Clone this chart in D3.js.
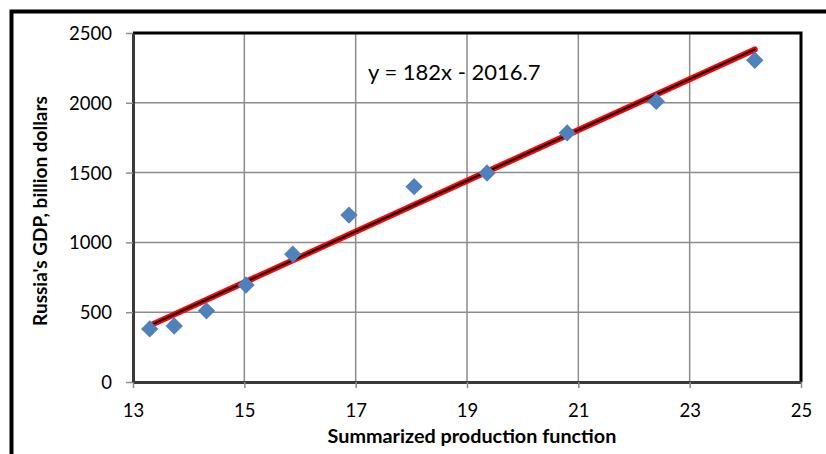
<!DOCTYPE html>
<html>
<head>
<meta charset="utf-8">
<script src="https://cdn.jsdelivr.net/npm/d3@7"></script>
<style>
  body { margin: 0; background: #fff; }
  svg { display: block; font-family: Lato, "Open Sans", sans-serif; }
</style>
</head>
<body>
<svg width="826" height="454"></svg>
<script>
// data
const prodFn = [13.30, 13.74, 14.32, 15.03, 15.87, 16.88, 18.05, 19.36, 20.80, 22.40, 24.17]
const gdp    = [ 380,   401,   510,   695,   915,  1196,  1399,  1497,  1784,  2010,  2305]
const xTicks = [13, 15, 17, 19, 21, 23, 25]
const yTicks = [0, 500, 1000, 1500, 2000, 2500]
const slope = 182
const intercept = -2016.7
const eqLabel = 'y = 182x - 2016.7'

const svg = d3.select('svg')
const m = {left: 133, top: 33, right: 801, bottom: 382}

const x = d3.scaleLinear().domain([13, 25]).range([m.left, m.right])
const y = d3.scaleLinear().domain([0, 2500]).range([m.bottom, m.top])

// outer chart frame (cut off at right and bottom)
svg.append('path')
    .attr('d', 'M11.5,460 V11.5 H840')
    .attr('fill', 'none')
    .attr('stroke', '#000')
    .attr('stroke-width', 4)

// gridlines
const grid = svg.append('g')
grid.selectAll('line.gy')
    .data(yTicks.slice(1))
    .enter().append('line')
    .attr('x1', m.left).attr('x2', m.right)
    .attr('y1', d => y(d)).attr('y2', d => y(d))
    .attr('stroke', '#8c8c8c').attr('stroke-width', 1.5)
grid.selectAll('line.gx')
    .data(xTicks.slice(1))
    .enter().append('line')
    .attr('x1', d => x(d)).attr('x2', d => x(d))
    .attr('y1', m.top).attr('y2', m.bottom)
    .attr('stroke', '#8c8c8c').attr('stroke-width', 1.5)

// plot border top/right
svg.append('path')
    .attr('d', `M${m.left},${m.top} H${m.right} V${m.bottom}`)
    .attr('fill', 'none')
    .attr('stroke', '#000')
    .attr('stroke-width', 3)

// axes
const xAxis = d3.axisBottom(x).tickValues(xTicks).tickSize(6).tickSizeOuter(0)
const yAxis = d3.axisLeft(y).tickValues(yTicks).tickSize(7).tickSizeOuter(0)
    .tickFormat(d3.format('d'))

const gx = svg.append('g').attr('transform', `translate(0,${m.bottom})`).call(xAxis)
const gy = svg.append('g').attr('transform', `translate(${m.left},0)`).call(yAxis)

for (const g of [gx, gy]) {
    g.select('.domain').attr('stroke', '#3a3a3a').attr('stroke-width', 3)
    g.selectAll('.tick line').attr('stroke', '#8c8c8c').attr('stroke-width', 1.5)
    g.selectAll('.tick text').attr('fill', '#000').style('font-size', '18.5px')
        .style('font-family', 'Lato, sans-serif')
}
gx.selectAll('.tick text').attr('dy', 0).attr('y', 35)
gy.selectAll('.tick text').attr('x', -21).attr('dy', '0.35em')

// trend line
const x0 = d3.min(prodFn), x1 = d3.max(prodFn)
const trend = [[x0, slope * x0 + intercept], [x1, slope * x1 + intercept]]
const lineGen = d3.line().x(d => x(d[0])).y(d => y(d[1]))

svg.append('path').datum(trend)
    .attr('d', lineGen)
    .attr('stroke', '#ff0000').attr('stroke-width', 6)
    .attr('stroke-linecap', 'round').attr('fill', 'none')
svg.append('path').datum(trend)
    .attr('d', lineGen)
    .attr('stroke', '#000').attr('stroke-width', 2)
    .attr('stroke-linecap', 'round').attr('fill', 'none')

// points
const pts = d3.zip(prodFn, gdp)
svg.append('g').selectAll('path')
    .data(pts)
    .enter().append('path')
    .attr('d', d3.symbol(d3.symbolSquare, 150))
    .attr('transform', d => `translate(${x(d[0])},${y(d[1])}) rotate(45)`)
    .attr('fill', '#4f81bd')

// equation
svg.append('text')
    .attr('x', 368).attr('y', 80)
    .style('font-size', '22px')
    .text(eqLabel)

// axis titles
svg.append('text')
    .attr('x', 472).attr('y', 443)
    .attr('text-anchor', 'middle')
    .style('font-size', '19.8px').style('font-weight', 'bold')
    .text('Summarized production function')

svg.append('text')
    .attr('transform', `translate(47,${211}) rotate(-90)`)
    .attr('text-anchor', 'middle')
    .style('font-size', '19px').style('font-weight', 'bold')
    .text("Russia's GDP, billion dollars")
</script>
</body>
</html>
